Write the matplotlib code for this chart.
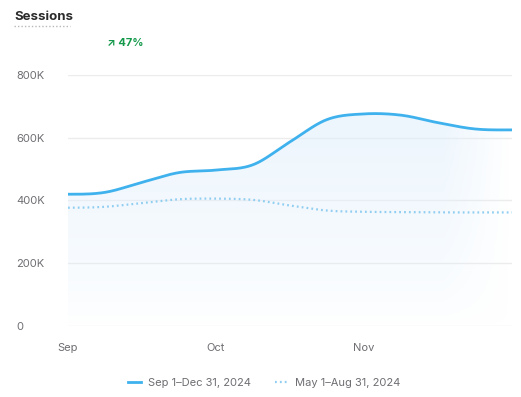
import numpy as np
import matplotlib
matplotlib.use('Agg')
import matplotlib.pyplot as plt
from matplotlib.lines import Line2D
from matplotlib.patches import Polygon

plt.rcParams['font.family'] = ['Inter', 'DejaVu Sans']

# weekly points, Sep 1 -> Dec
week_idx = list(range(13))
month_labels = ['Sep', 'Oct', 'Nov']
month_pos = [0, 4, 8]
current = [420, 426, 458, 489, 497, 514, 587, 658, 676, 672, 648, 628, 625]
previous = [377, 380, 392, 404, 406, 402, 384, 368, 364, 363, 362, 362, 362]
y_ticks = [0, 200, 400, 600, 800]
y_tick_labels = ['0', '200K', '400K', '600K', '800K']
legend_labels = ['Sep 1\u2013Dec 31, 2024', 'May 1\u2013Aug 31, 2024']
title = 'Sessions'
change = '47%'

LINE = '#3fb2ee'
LINE_PREV = '#8fcdf1'
GRID = '#ececec'
TXT = '#6e6e73'


def smooth(x, y, n=400):
    # catmull-rom style cubic through the points
    x = np.asarray(x, float)
    y = np.asarray(y, float)
    h = np.diff(x)
    m = np.zeros_like(y)
    m[1:-1] = (y[2:] - y[:-2]) / (x[2:] - x[:-2])
    m[0] = 0
    m[-1] = 0
    xs = np.linspace(x[0], x[-1], n)
    k = np.clip(np.searchsorted(x, xs) - 1, 0, len(x) - 2)
    t = (xs - x[k]) / h[k]
    h00 = 2 * t**3 - 3 * t**2 + 1
    h10 = t**3 - 2 * t**2 + t
    h01 = -2 * t**3 + 3 * t**2
    h11 = t**3 - t**2
    ys = h00 * y[k] + h10 * h[k] * m[k] + h01 * y[k + 1] + h11 * h[k] * m[k + 1]
    return xs, ys


fig = plt.figure(figsize=(5.21, 3.97), dpi=100)
ax = fig.add_axes([68 / 521, 1 - 326 / 397, (512 - 68) / 521, (326 - 75) / 397])

xs, ys = smooth(week_idx, current)
xp, yp = smooth(week_idx, previous)

# gradient fill under current line
grad = np.zeros((100, 100, 4))
vy = np.linspace(1, 0, 100)[:, None]
vx = np.linspace(0, 1, 100)[None, :]
alpha = 0.6 * vy ** 0.7 * np.clip((1 - vx) / 0.15, 0, 1)
grad[..., 0] = 0.88
grad[..., 1] = 0.94
grad[..., 2] = 0.99
grad[..., 3] = alpha
img = ax.imshow(grad, extent=[0, 12, 0, 700], aspect='auto', origin='upper', zorder=1)
poly = Polygon(np.column_stack([np.r_[xs, xs[-1], xs[0]], np.r_[ys, 0, 0]]), closed=True,
               facecolor='none', edgecolor='none')
ax.add_patch(poly)
img.set_clip_path(poly)

for v in y_ticks:
    ax.axhline(v, color=GRID, lw=1, zorder=0)

ax.plot(xs, ys, color=LINE, lw=2, zorder=3, solid_capstyle='round')
ax.plot(xp, yp, color=LINE_PREV, lw=1.6, ls=(0, (0.8, 1.4)), zorder=2)

ax.set_xlim(0, 12)
ax.set_ylim(0, 800)
for s in ax.spines.values():
    s.set_visible(False)
ax.set_yticks(y_ticks)
ax.set_yticklabels(y_tick_labels)
ax.set_xticks(month_pos)
ax.set_xticklabels(month_labels)
ax.tick_params(axis='both', length=0, colors=TXT, labelsize=8)
ax.tick_params(axis='y', pad=37)
for lbl in ax.get_yticklabels():
    lbl.set_ha('left')
ax.tick_params(axis='x', pad=12)

fig.text(14 / 521, 1 - 17 / 397, title, fontsize=9.5, fontweight='bold', color='#2b2b2b', va='center')
fig.add_artist(Line2D([14 / 521, 70 / 521], [1 - 26 / 397] * 2, color='#b8b8b8', lw=1, ls=(0, (1, 1.5))))
fig.text(107 / 521, 1 - 43 / 397, '\u2197 ' + change, fontsize=8, fontweight='bold', color='#14994b', va='center')

# legend
handles = [Line2D([], [], color=LINE, lw=2),
           Line2D([], [], color=LINE_PREV, lw=1.6, ls=(0, (0.8, 1.4)))]
fig.legend(handles, legend_labels, loc='center', bbox_to_anchor=(264 / 521, 1 - 383 / 397), ncol=2,
           frameon=False, fontsize=8, handlelength=1.2, handletextpad=0.6, columnspacing=2.2,
           labelcolor=TXT)

fig.savefig('out.png', dpi=100)
